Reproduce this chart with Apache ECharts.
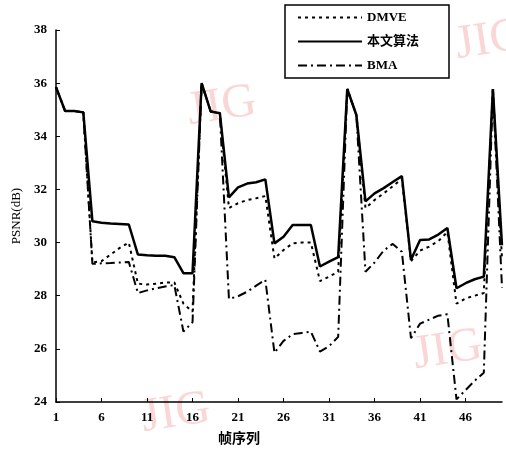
<!DOCTYPE html>
<html>
<head>
<meta charset="utf-8">
<script src="https://cdn.jsdelivr.net/npm/echarts@6/dist/echarts.min.js"></script>
<style>
  html, body { margin: 0; padding: 0; background: #fff; }
  #chart { width: 506px; height: 453px; }
</style>
</head>
<body>
<div id="chart"></div>
<script>
// frame numbers 1..50
var frames = [];
for (var i = 1; i <= 50; i++) frames.push(String(i));

var yTicks = [24, 26, 28, 30, 32, 34, 36, 38];

var dmve = [35.85, 34.95, 34.95, 34.9, 29.25, 29.3, 29.55, 29.8, 30.0, 28.45,
  28.42, 28.45, 28.5, 28.5, 27.7, 27.4, 36.0, 34.93, 34.87, 31.3,
  31.48, 31.6, 31.67, 31.75, 29.4, 29.72, 29.97, 30.0, 30.0, 28.55,
  28.72, 28.9, 35.78, 34.8, 31.3, 31.6, 31.85, 32.12, 32.4, 29.3,
  29.7, 29.85, 30.05, 30.4, 27.7, 27.9, 28.0, 28.1, 35.78, 29.4];

var ours = [35.85, 34.95, 34.95, 34.9, 30.8, 30.75, 30.72, 30.7, 30.68, 29.55,
  29.52, 29.5, 29.5, 29.45, 28.85, 28.85, 36.0, 34.93, 34.87, 31.7,
  32.08, 32.22, 32.27, 32.38, 29.97, 30.22, 30.66, 30.66, 30.66, 29.1,
  29.28, 29.45, 35.78, 34.8, 31.55, 31.85, 32.05, 32.28, 32.5, 29.35,
  30.1, 30.12, 30.3, 30.55, 28.28, 28.47, 28.62, 28.72, 35.78, 29.9];

var bma = [35.85, 34.95, 34.95, 34.9, 29.2, 29.22, 29.23, 29.25, 29.27, 28.1,
  28.2, 28.28, 28.35, 28.4, 26.65, 27.0, 36.0, 34.93, 34.87, 27.88,
  27.98, 28.15, 28.38, 28.6, 25.85, 26.3, 26.55, 26.6, 26.65, 25.9,
  26.1, 26.45, 35.78, 34.8, 28.9, 29.25, 29.7, 29.95, 29.65, 26.4,
  26.95, 27.1, 27.25, 27.3, 24.1, 24.45, 24.8, 25.1, 35.78, 28.3];

var serif = '"Liberation Serif", "DejaVu Serif", "Noto Sans CJK SC", serif';

var chart = echarts.init(document.getElementById('chart'));

function mark(x, y) {
  return {
    type: 'text', x: x, y: y, rotation: 0.15, silent: true, z: -10,
    style: { text: 'JIG', font: '48px ' + serif, fill: 'rgba(240,120,120,0.3)' }
  };
}

var option = {
  animation: false,
  backgroundColor: '#fff',
  graphic: [mark(184, 88), mark(138, 395), mark(410, 332), mark(452, 22)],
  legend: {
    orient: 'vertical',
    left: 285,
    top: 5,
    itemWidth: 64,
    itemHeight: 14,
    itemGap: 11,
    padding: [6, 30, 6, 12],
    borderColor: '#000',
    borderWidth: 1.5,
    backgroundColor: '#fff',
    itemStyle: { opacity: 0 },
    textStyle: { fontFamily: serif, fontWeight: 'bold', fontSize: 13, color: '#000' },
    data: ['DMVE', '本文算法', 'BMA']
  },
  grid: { left: 56, right: 4, top: 30, bottom: 51, containLabel: false, outerBoundsMode: 'none' },
  xAxis: {
    type: 'category',
    data: frames,
    boundaryGap: false,
    name: '帧序列',
    nameLocation: 'middle',
    nameGap: 30,
    nameTextStyle: { fontFamily: serif, fontWeight: 'bold', fontSize: 14, color: '#000', padding: [0, 80, 0, 0] },
    axisLine: { lineStyle: { color: '#000', width: 1.5 } },
    axisTick: { inside: true, length: 4, interval: 4, lineStyle: { color: '#000' } },
    axisLabel: { interval: 4, margin: 9, fontFamily: serif, fontWeight: 'bold', fontSize: 13, color: '#000' },
    splitLine: { show: false }
  },
  yAxis: {
    type: 'value',
    min: yTicks[0],
    max: yTicks[yTicks.length - 1],
    interval: 2,
    name: 'PSNR(dB)',
    nameLocation: 'middle',
    nameGap: 33,
    nameTextStyle: { fontFamily: serif, fontSize: 13, color: '#000' },
    axisLine: { show: true, lineStyle: { color: '#000', width: 1.5 } },
    axisTick: { show: true, inside: true, length: 4, lineStyle: { color: '#000' } },
    axisLabel: { margin: 9, fontFamily: serif, fontWeight: 'bold', fontSize: 13, color: '#000' },
    splitLine: { show: false }
  },
  series: [
    {
      name: 'DMVE', type: 'line', data: dmve, symbol: 'none',
      lineStyle: { color: '#000', width: 2, type: [3, 4] }, itemStyle: { color: '#000' }
    },
    {
      name: '本文算法', type: 'line', data: ours, symbol: 'none',
      lineStyle: { color: '#000', width: 2.5, type: 'solid' }, itemStyle: { color: '#000' }
    },
    {
      name: 'BMA', type: 'line', data: bma, symbol: 'none',
      lineStyle: { color: '#000', width: 2, type: [9, 4, 2, 4] }, itemStyle: { color: '#000' }
    }
  ]
};

chart.setOption(option);
</script>
</body>
</html>
